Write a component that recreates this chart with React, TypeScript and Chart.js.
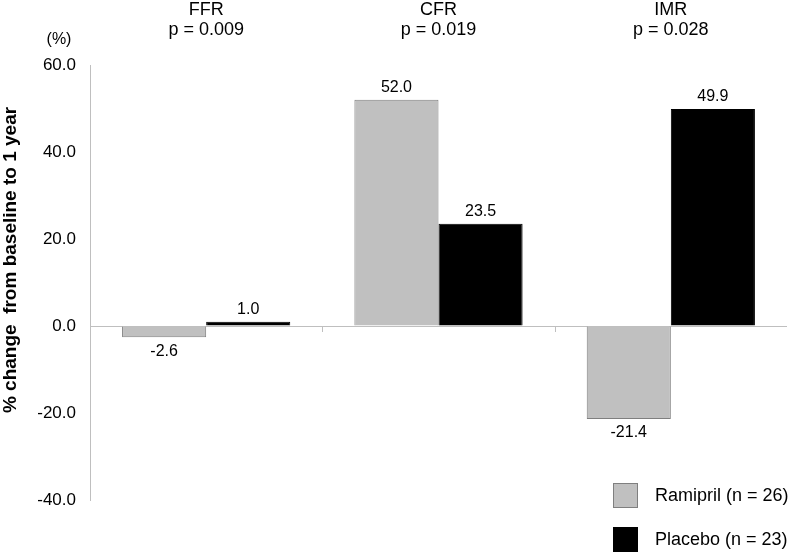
import React, { useEffect, useRef } from "react";
import { Chart, registerables } from "chart.js";

Chart.register(...registerables);

const categories = ["FFR", "CFR", "IMR"];
const pValues = ["p = 0.009", "p = 0.019", "p = 0.028"];
const ramipril = [-2.6, 52.0, -21.4];
const placebo = [1.0, 23.5, 49.9];
const seriesNames = ["Ramipril (n = 26)", "Placebo (n = 23)"];
const yTicks = [60, 40, 20, 0, -20, -40];

const FONT = "'Liberation Sans', Arial, sans-serif";

const decorPlugin = {
  id: "decor",
  afterDatasetsDraw(chart: any) {
    const ctx = chart.ctx;
    const x = chart.scales.x;
    const y = chart.scales.y;
    ctx.save();
    // zero line ticks at category boundaries
    const y0 = y.getPixelForValue(0);
    ctx.strokeStyle = "#bfbfbf";
    ctx.lineWidth = 1;
    for (let i = 1; i < categories.length; i++) {
      const bx = (x.getPixelForValue(i - 1) + x.getPixelForValue(i)) / 2;
      ctx.beginPath();
      ctx.moveTo(Math.round(bx) + 0.5, y0);
      ctx.lineTo(Math.round(bx) + 0.5, y0 + 6);
      ctx.stroke();
    }
    // data labels
    ctx.fillStyle = "#000";
    ctx.font = `16px ${FONT}`;
    ctx.textAlign = "center";
    chart.data.datasets.forEach((ds: any, di: number) => {
      const meta = chart.getDatasetMeta(di);
      meta.data.forEach((bar: any, i: number) => {
        const v = ds.data[i];
        if (v >= 0) {
          ctx.textBaseline = "bottom";
          ctx.fillText(v.toFixed(1), bar.x, bar.y - 4);
        } else {
          ctx.textBaseline = "top";
          ctx.fillText(v.toFixed(1), bar.x, bar.y + 6);
        }
      });
    });
    // category titles
    ctx.font = `18px ${FONT}`;
    ctx.textBaseline = "middle";
    categories.forEach((c, i) => {
      const cx = x.getPixelForValue(i);
      ctx.fillText(c, cx, 10);
      ctx.fillText(pValues[i], cx, 30);
    });
    // (%)
    ctx.font = `16px ${FONT}`;
    ctx.fillText("(%)", 59, 40);
    // y title
    ctx.save();
    ctx.translate(11, 260);
    ctx.rotate(-Math.PI / 2);
    ctx.font = `bold 19px ${FONT}`;
    ctx.textBaseline = "middle";
    ctx.fillText("% change  from baseline to 1 year", 0, 0);
    ctx.restore();
    // legend
    const colors = ["#c0c0c0", "#000000"];
    const borders = ["#7f7f7f", "#000000"];
    const boxY = [483, 527];
    ctx.font = `18px ${FONT}`;
    ctx.textAlign = "left";
    ctx.textBaseline = "middle";
    seriesNames.forEach((n, i) => {
      ctx.fillStyle = colors[i];
      ctx.fillRect(613, boxY[i], 25, 25);
      ctx.strokeStyle = borders[i];
      ctx.lineWidth = 1;
      ctx.strokeRect(613.5, boxY[i] + 0.5, 24, 24);
      ctx.fillStyle = "#000";
      ctx.fillText(n, 655, boxY[i] + 13);
    });
    ctx.restore();
  },
};

export default function App() {
  const ref = useRef<HTMLCanvasElement>(null);
  useEffect(() => {
    document.body.style.margin = "0";
    const chart = new Chart(ref.current!, {
      type: "bar",
      data: {
        labels: categories,
        datasets: [
          {
            label: seriesNames[0],
            data: ramipril,
            backgroundColor: "#c0c0c0",
            borderColor: "#7f7f7f",
            borderWidth: 1,
            categoryPercentage: 0.724,
            barPercentage: 1,
          },
          {
            label: seriesNames[1],
            data: placebo,
            backgroundColor: "#000000",
            borderColor: "#000000",
            borderWidth: 1,
            categoryPercentage: 0.724,
            barPercentage: 1,
          },
        ],
      },
      options: {
        animation: false,
        responsive: false,
        devicePixelRatio: 1,
        layout: { padding: { left: 0, right: 5, top: 65, bottom: 54 } },
        plugins: { legend: { display: false }, tooltip: { enabled: false }, title: { display: false } },
        scales: {
          x: { display: false },
          y: {
            min: -40,
            max: 60,
            afterFit: (s: any) => {
              s.width = 90;
            },
            afterBuildTicks: (s: any) => {
              s.ticks = yTicks.map((v) => ({ value: v }));
            },
            ticks: {
              color: "#000",
              font: { family: FONT, size: 17 },
              padding: 14,
              callback: (v: any) => Number(v).toFixed(1),
            },
            grid: {
              drawTicks: false,
              color: (c: any) => (c.tick && c.tick.value === 0 ? "#bfbfbf" : "rgba(0,0,0,0)"),
            },
            border: { color: "#bfbfbf", width: 1 },
          },
        },
      },
      plugins: [decorPlugin],
    });
    return () => chart.destroy();
  }, []);
  return (
    <div style={{ position: "absolute", left: 0, top: 0, width: 792, height: 554, background: "#fff" }}>
      <canvas ref={ref} width={792} height={554} style={{ width: 792, height: 554 }} />
    </div>
  );
}
